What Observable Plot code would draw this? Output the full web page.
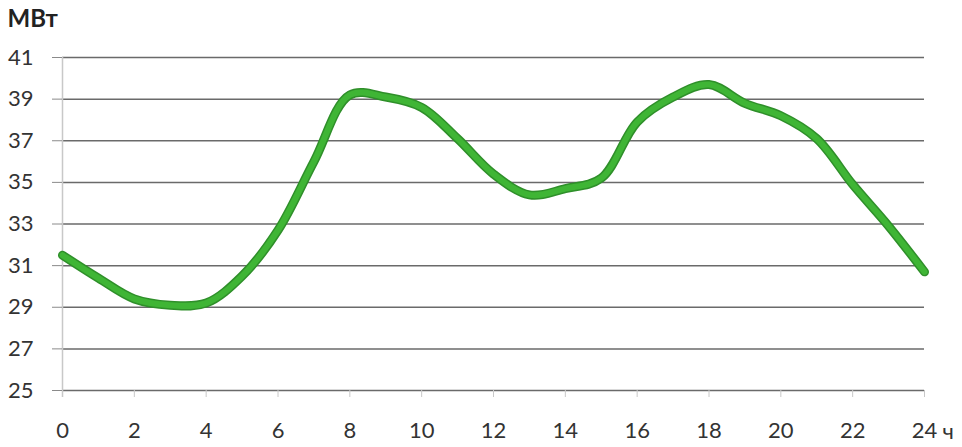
<!DOCTYPE html>
<html>
<head>
<meta charset="utf-8">
<script src="https://cdn.jsdelivr.net/npm/d3@7"></script>
<script src="https://cdn.jsdelivr.net/npm/@observablehq/plot@0.6"></script>
<style>
  html, body { margin: 0; padding: 0; background: #fff; }
  #chart svg { display: block; }
</style>
</head>
<body>
<div id="chart"></div>
<script>
const hours = [0, 1, 2, 3, 4, 5, 6, 7, 8, 9, 10, 11, 12, 13, 14, 15, 16, 17, 18, 19, 20, 21, 22, 23, 24];
const power = [31.5, 30.4, 29.4, 29.1, 29.2, 30.5, 32.7, 36.0, 39.2, 39.1, 38.6, 37.1, 35.4, 34.4, 34.7, 35.2, 37.9, 39.1, 39.7, 38.8, 38.2, 37.1, 34.9, 32.9, 30.7];
const xTicks = [0, 2, 4, 6, 8, 10, 12, 14, 16, 18, 20, 22, 24];
const yTicks = [25, 27, 29, 31, 33, 35, 37, 39, 41];
const yUnit = "МВт";
const xUnit = "ч";

const data = hours.map((h, i) => ({h, v: power[i]}));

const chart = Plot.plot({
  width: 962,
  height: 447,
  marginLeft: 62,
  marginRight: 38,
  marginTop: 57,
  marginBottom: 57,
  style: {fontFamily: "Lato, 'Open Sans', sans-serif", fontSize: "22px", color: "#333", background: "#fff"},
  x: {domain: [0, 24]},
  y: {domain: [25, 41]},
  marks: [
    Plot.gridY(yTicks, {stroke: "#6a6a6a", strokeOpacity: 1, strokeWidth: 1.5}),
    Plot.ruleX([0], {stroke: "#c8c8c8", strokeWidth: 1.5, y1: 41, y2: 25, insetBottom: -7}),
    Plot.axisY(yTicks, {tickSize: 10, tickPadding: 19, stroke: "#8a8a8a", label: null, fill: "#333"}),
    Plot.axisX(xTicks, {tickSize: 7, tickPadding: 25, stroke: "#c8c8c8", label: null, fill: "#333"}),
    Plot.text([xUnit], {x: 24, y: 25, dx: 18, dy: 41, textAnchor: "start", lineAnchor: "middle", fill: "#333", fontSize: 22}),
    Plot.text([yUnit], {frameAnchor: "top-left", dx: -55, dy: -38, textAnchor: "start", lineAnchor: "middle", fontWeight: "bold", fontSize: 24, fill: "#222"}),
    Plot.line(data, {x: "h", y: "v", curve: "catmull-rom", stroke: "#2f8f2a", strokeWidth: 9}),
    Plot.line(data, {x: "h", y: "v", curve: "catmull-rom", stroke: "#3fb535", strokeWidth: 6})
  ]
});
document.getElementById("chart").appendChild(chart);
</script>
</body>
</html>
